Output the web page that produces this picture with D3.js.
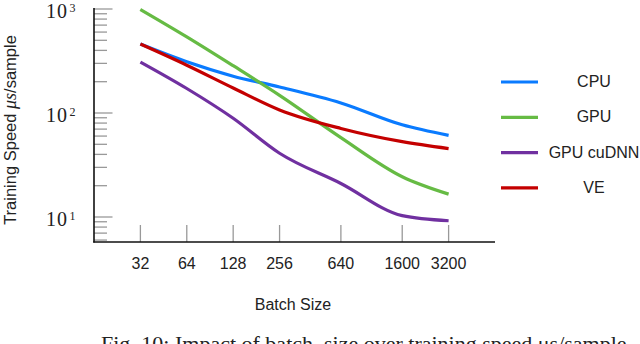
<!DOCTYPE html>
<html>
<head>
<meta charset="utf-8">
<script src="https://cdn.jsdelivr.net/npm/d3@7"></script>
<style>
  body { margin: 0; background: #fff; }
  svg { display: block; }
</style>
</head>
<body>
<svg width="640" height="344"></svg>
<script>
// batch sizes on the x axis
var batchSizes = [32, 64, 128, 256, 640, 1600, 3200];

// training speed in microseconds per sample
var cpuSpeed    = [460, 311, 226, 178, 125, 77, 61];
var gpuSpeed    = [990, 540, 285, 148, 58, 24.4, 16.6];
var cudnnSpeed  = [309, 172, 89, 41, 21, 10.3, 9.2];
var veSpeed     = [460, 288, 174, 107, 71, 53, 45.5];

var seriesNames = ["CPU", "GPU", "GPU cuDNN", "VE"];
var seriesColors = ["#0a7bff", "#66bb44", "#7030a0", "#c40000"];
var seriesValues = [cpuSpeed, gpuSpeed, cudnnSpeed, veSpeed];

var yMajor = [10, 100, 1000];
var yExps = ["1", "2", "3"];

var svg = d3.select("svg");

var x = d3.scaleLog().domain([16, 6400]).range([94, 495]);
var y = d3.scaleLog().domain([Math.pow(10, 1 - 25 / 104), 1000]).range([242, 9]);

var sans = "'Liberation Sans', Arial, sans-serif";
var serif = "'Liberation Serif', 'Times New Roman', serif";

// y minor + major ticks drawn inside the plot
var yTicks = [];
for (var e = 0; e <= 3; e++) {
    for (var m = 1; m <= 9; m++) {
        var v = m * Math.pow(10, e);
        if (v >= y.domain()[0] && v <= 1000) yTicks.push(v);
    }
}
svg.append("g").selectAll("line")
    .data(yTicks)
    .enter().append("line")
    .attr("x1", 94)
    .attr("x2", function(d) { return yMajor.indexOf(d) >= 0 ? 112.5 : 107; })
    .attr("y1", function(d) { return y(d); })
    .attr("y2", function(d) { return y(d); })
    .style("stroke", "#999")
    .style("stroke-width", 1.3);

// x ticks
svg.append("g").selectAll("line")
    .data(batchSizes)
    .enter().append("line")
    .attr("x1", function(d) { return x(d); })
    .attr("x2", function(d) { return x(d); })
    .attr("y1", 225)
    .attr("y2", 242)
    .style("stroke", "#999")
    .style("stroke-width", 1.3);

// axes lines
svg.append("line").attr("x1", 94).attr("x2", 94).attr("y1", 8).attr("y2", 242.5)
    .style("stroke", "#111").style("stroke-width", 1.6);
svg.append("line").attr("x1", 93.2).attr("x2", 495).attr("y1", 242).attr("y2", 242)
    .style("stroke", "#111").style("stroke-width", 1.6);

// y tick labels 10^n
var yLab = svg.append("g").selectAll("g")
    .data(yMajor)
    .enter().append("g");
yLab.append("text")
    .attr("x", 68)
    .attr("y", function(d) { return y(d) + 9.4; })
    .attr("text-anchor", "end")
    .style("font-family", serif)
    .style("font-size", "20px")
    .style("letter-spacing", "1px")
    .style("fill", "#222")
    .text("10");
yLab.append("text")
    .attr("x", 69.5)
    .attr("y", function(d) { return y(d) + 2.8; })
    .style("font-family", serif)
    .style("font-size", "12px")
    .style("fill", "#222")
    .text(function(d, i) { return yExps[i]; });

// x tick labels
svg.append("g").selectAll("text")
    .data(batchSizes)
    .enter().append("text")
    .attr("x", function(d) { return x(d); })
    .attr("y", 269)
    .attr("text-anchor", "middle")
    .style("font-family", sans)
    .style("font-size", "16px")
    .style("fill", "#222")
    .text(function(d) { return d; });

// axis titles
svg.append("text")
    .attr("x", 293)
    .attr("y", 310)
    .attr("text-anchor", "middle")
    .style("font-family", sans)
    .style("font-size", "16px")
    .style("fill", "#222")
    .text("Batch Size");

var yTitle = svg.append("text")
    .attr("transform", "translate(15.5,130) rotate(-90)")
    .attr("text-anchor", "middle")
    .style("font-family", sans)
    .style("font-size", "16.5px")
    .style("fill", "#222");
yTitle.append("tspan").text("Training Speed ");
yTitle.append("tspan").style("font-family", serif).style("font-style", "italic").style("font-size", "18px").text("μs");
yTitle.append("tspan").text("/sample");

// series lines
var line = d3.line()
    .x(function(d, i) { return x(batchSizes[i]); })
    .y(function(d) { return y(d); })
    .curve(d3.curveMonotoneX);

var drawOrder = [0, 1, 2, 3];
svg.append("g").selectAll("path")
    .data(drawOrder)
    .enter().append("path")
    .attr("d", function(i) { return line(seriesValues[i]); })
    .style("fill", "none")
    .style("stroke", function(i) { return seriesColors[i]; })
    .style("stroke-width", 3.2);

// legend
var leg = svg.append("g").selectAll("g")
    .data(seriesNames)
    .enter().append("g")
    .attr("transform", function(d, i) { return "translate(0," + (82 + i * 35.3) + ")"; });
leg.append("line")
    .attr("x1", 501).attr("x2", 538)
    .style("stroke", function(d, i) { return seriesColors[i]; })
    .style("stroke-width", 3.2);
leg.append("text")
    .attr("x", 594)
    .attr("y", 5)
    .attr("text-anchor", "middle")
    .style("font-family", sans)
    .style("font-size", "16px")
    .style("fill", "#222")
    .text(function(d) { return d; });

// caption (partly cut off at the bottom)
svg.append("text")
    .attr("x", 101)
    .attr("y", 351)
    .style("font-family", serif)
    .style("font-size", "22px")
    .style("fill", "#222")
    .text("Fig. 10: Impact of batch_size over training speed μs/sample.");
</script>
</body>
</html>
